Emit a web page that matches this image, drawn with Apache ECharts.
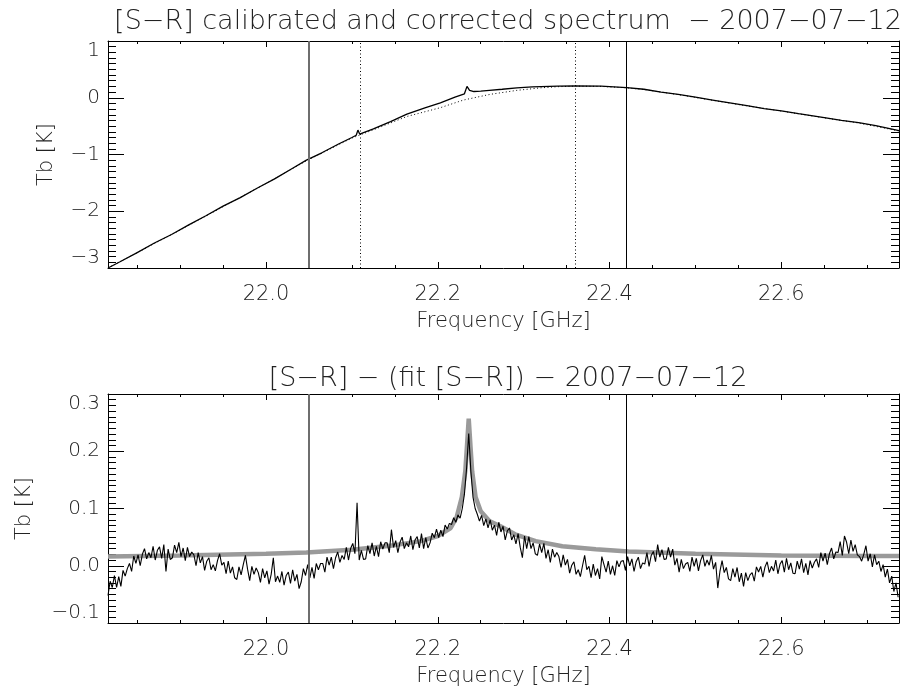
<!DOCTYPE html>
<html>
<head>
<meta charset="utf-8">
<script src="https://cdn.jsdelivr.net/npm/echarts@6/dist/echarts.min.js"></script>
<style>html,body{margin:0;padding:0;background:#fff}#c{width:920px;height:693px}</style>
</head>
<body>
<div id="c"></div>
<script>
// ---------- data ----------
const topTitle = '[S\u2212R] calibrated and corrected spectrum  \u2212 2007\u221207\u221212';
const bottomTitle = '[S\u2212R] \u2212 (fit [S\u2212R]) \u2212 2007\u221207\u221212';
const xName = 'Frequency [GHz]';
const yName = 'Tb [K]';

const X_MIN = 21.816, X_MAX = 22.737;
const xLabelValues = [22.0, 22.2, 22.4, 22.6];
const xMinorValues = [21.85, 21.9, 21.95, 22.05, 22.1, 22.15, 22.25, 22.3, 22.35, 22.45, 22.5, 22.55, 22.65, 22.7];

// top panel: calibrated spectrum
const specFreq = [21.816,21.83,21.85,21.87,21.89,21.91,21.93,21.95,21.97,21.99,22.01,22.03,22.047,22.065,22.085,22.10,22.105,22.107,22.109,22.125,22.145,22.164,22.185,22.203,22.22,22.231,22.234,22.237,22.242,22.25,22.26,22.275,22.292,22.31,22.34,22.36,22.39,22.42,22.44,22.46,22.48,22.50,22.52,22.54,22.56,22.58,22.60,22.62,22.65,22.67,22.69,22.71,22.737];
const specTb   = [-3.00,-2.89,-2.73,-2.56,-2.41,-2.24,-2.08,-1.91,-1.76,-1.59,-1.43,-1.25,-1.10,-0.97,-0.81,-0.70,-0.66,-0.57,-0.64,-0.55,-0.42,-0.29,-0.18,-0.09,0.01,0.07,0.20,0.13,0.11,0.115,0.13,0.15,0.175,0.19,0.205,0.21,0.205,0.18,0.15,0.10,0.06,0.01,-0.04,-0.09,-0.14,-0.19,-0.23,-0.28,-0.35,-0.40,-0.44,-0.49,-0.58];
// top panel: baseline fit (dotted)
const baseFreq = [21.816,21.90,22.00,22.047,22.10,22.125,22.164,22.203,22.23,22.261,22.292,22.32,22.34,22.36,22.39,22.42,22.44,22.46,22.48,22.50,22.55,22.60,22.65,22.69,22.737];
const baseTb   = [-3.00,-2.33,-1.51,-1.11,-0.71,-0.565,-0.33,-0.175,-0.04,0.06,0.13,0.175,0.195,0.205,0.20,0.175,0.145,0.10,0.055,0.005,-0.12,-0.235,-0.355,-0.445,-0.585];

// bottom panel: residual spectrum, channels from RES_START every RES_STEP GHz
const RES_START = 21.816, RES_STEP = 0.0025;
const residTb = [
-0.052,-0.027,-0.038,-0.017,-0.038,-0.019,-0.036,-0.008,-0.018,-0.005,
0.004,-0.010,0.017,0.004,0.019,0.000,0.020,0.030,0.012,0.023,
0.014,0.034,0.010,0.027,0.033,0.013,0.037,-0.010,0.029,0.011,
0.014,0.036,0.023,0.041,0.016,0.031,0.009,0.032,0.016,0.024,
0.019,0.000,0.023,0.005,0.016,-0.008,0.008,0.014,-0.007,0.002,
-0.009,0.009,0.021,0.001,0.006,-0.014,0.008,-0.013,-0.002,-0.021,
-0.024,-0.002,-0.016,0.002,0.018,-0.006,-0.026,-0.001,-0.015,-0.004,
-0.012,-0.029,-0.005,-0.021,-0.009,-0.032,-0.015,0.014,-0.028,-0.018,
-0.029,-0.010,-0.034,-0.017,-0.011,-0.031,-0.007,-0.027,-0.015,-0.040,
-0.028,-0.005,-0.017,0.002,-0.021,-0.003,-0.022,0.004,-0.007,0.004,
0.004,-0.011,0.015,0.001,0.015,-0.005,0.014,0.024,0.006,0.018,
0.011,0.032,0.010,0.030,0.039,0.021,0.110,0.010,0.027,0.011,
0.012,0.035,0.021,0.040,0.017,0.034,0.016,0.042,0.029,0.040,
0.040,0.023,0.063,0.032,0.044,0.023,0.041,0.050,0.030,0.040,
0.033,0.052,0.028,0.045,0.051,0.031,0.056,0.030,0.049,0.031,
0.040,0.057,0.049,0.064,0.049,0.062,0.051,0.071,0.064,0.074,
0.072,0.084,0.076,0.089,0.083,0.100,0.125,0.170,0.231,0.165,
0.120,0.100,0.090,0.078,0.088,0.070,0.082,0.066,0.080,0.062,
0.071,0.053,0.076,0.059,0.069,0.045,0.061,0.066,0.045,0.054,
0.038,0.056,0.032,0.014,0.052,0.030,0.051,0.030,0.040,0.021,
0.018,0.038,0.023,0.039,0.013,0.028,0.006,0.029,0.015,0.023,
0.016,-0.003,0.019,0.001,0.011,-0.013,0.001,0.007,-0.015,-0.007,
-0.019,0.000,0.018,-0.007,-0.001,-0.021,0.003,-0.017,-0.005,-0.023,
0.016,0.002,-0.011,0.008,-0.015,0.000,-0.017,0.009,-0.002,0.008,
0.009,-0.008,0.016,0.000,0.012,-0.010,0.007,0.015,-0.005,0.005,
0.003,0.023,-0.001,0.018,0.025,0.007,0.037,0.015,0.028,0.011,
0.012,0.032,0.015,0.029,0.001,0.013,-0.011,0.011,-0.005,0.003,
0.006,-0.010,0.015,-0.001,0.013,-0.009,0.009,0.019,-0.001,0.010,
0.001,0.018,-0.006,0.006,-0.039,-0.010,0.009,-0.012,-0.003,-0.023,
-0.026,-0.005,-0.020,-0.003,-0.028,-0.013,-0.036,-0.012,-0.026,-0.016,
-0.012,-0.027,-0.002,-0.011,-0.001,-0.020,-0.002,0.007,-0.012,-0.001,
-0.009,0.010,-0.014,0.003,0.009,-0.011,0.013,-0.007,0.005,-0.013,
-0.014,0.008,-0.006,0.012,-0.012,0.004,-0.016,0.009,-0.004,0.006,
0.012,-0.003,0.023,0.008,0.022,0.002,0.021,0.031,0.012,0.024,
0.023,0.042,0.018,0.052,0.041,0.021,0.045,0.025,0.037,0.019,
0.016,0.008,0.020,0.035,0.008,0.021,-0.002,0.019,0.002,0.008,
-0.010,0.002,-0.020,-0.006,-0.030,-0.018,-0.045,-0.030,-0.055
];
// bottom panel: line model fit (thick grey)
const lineFreq = [21.816,21.90,22.00,22.047,22.10,22.15,22.18,22.20,22.215,22.222,22.228,22.232,22.234,22.236,22.238,22.240,22.244,22.250,22.260,22.273,22.290,22.314,22.345,22.384,22.422,22.50,22.60,22.70,22.737];
const lineTb   = [0.016,0.018,0.021,0.023,0.028,0.036,0.043,0.052,0.066,0.085,0.12,0.165,0.21,0.257,0.21,0.165,0.12,0.095,0.078,0.069,0.055,0.043,0.034,0.029,0.025,0.021,0.018,0.017,0.017];

// vertical marker lines
const solidMarkers = [22.047, 22.422];
const dottedMarkers = [22.110, 22.361];

// ---------- chart ----------
const FONT = '"DejaVu Sans", sans-serif';
const TXT = '#222';
const zip = (a, b) => a.map((v, i) => [v, b[i]]);
const residData = residTb.map((v, i) => [RES_START + i * RES_STEP, v]);
const fmt = d => v => { const r = Math.round(v * Math.pow(10, d)) / Math.pow(10, d); if (Math.abs(r) < 1e-9) return (0).toFixed(d); return (r < 0 ? '\u2212' : '') + Math.abs(r).toFixed(d); };

const grids = [
  { left: 108, top: 41, width: 791, height: 227 },
  { left: 108, top: 394, width: 791, height: 229 }
];

function xAxesFor(g) {
  const base = { type: 'value', gridIndex: g, min: X_MIN, max: X_MAX, splitLine: { show: false } };
  return [
    Object.assign({}, base, {
      position: 'bottom',
      axisLine: { show: true, onZero: false, lineStyle: { color: '#000', width: 1 } },
      axisTick: { show: true, inside: true, length: 6, customValues: xLabelValues, lineStyle: { color: '#000' } },
      axisLabel: { show: true, customValues: xLabelValues, formatter: fmt(1), margin: 16, fontSize: 21, fontFamily: FONT, fontWeight: 200, color: TXT },
      name: xName, nameLocation: 'middle', nameGap: 43,
      nameTextStyle: { fontSize: 21, fontFamily: FONT, fontWeight: 200, color: TXT }
    }),
    Object.assign({}, base, {
      position: 'bottom',
      axisLine: { show: false, onZero: false },
      axisTick: { show: true, inside: true, length: 3, customValues: xMinorValues, lineStyle: { color: '#000' } },
      axisLabel: { show: false }
    }),
    Object.assign({}, base, {
      position: 'top',
      axisLine: { show: true, onZero: false, lineStyle: { color: '#000', width: 1 } },
      axisTick: { show: true, inside: true, length: 6, customValues: xLabelValues, lineStyle: { color: '#000' } },
      axisLabel: { show: false }
    }),
    Object.assign({}, base, {
      position: 'top',
      axisLine: { show: false, onZero: false },
      axisTick: { show: true, inside: true, length: 3, customValues: xMinorValues, lineStyle: { color: '#000' } },
      axisLabel: { show: false }
    })
  ];
}

function yAxesFor(g, min, max, interval, digits, nameGap) {
  const base = {
    type: 'value', gridIndex: g, min: min, max: max, interval: interval,
    splitLine: { show: false },
    axisLine: { show: true, onZero: false, lineStyle: { color: '#000', width: 1 } },
    axisTick: { show: true, inside: true, length: 16, lineStyle: { color: '#000' } },
    minorTick: { show: true, splitNumber: 10, length: 8, lineStyle: { color: '#000' } }
  };
  return [
    Object.assign({}, base, {
      position: 'left',
      axisLabel: { show: true, formatter: fmt(digits), margin: 8, fontSize: 20, fontFamily: FONT, fontWeight: 200, color: TXT,
                   verticalAlignMinLabel: 'bottom', verticalAlignMaxLabel: 'top' },
      name: yName, nameLocation: 'middle', nameGap: nameGap,
      nameTextStyle: { fontSize: 21, fontFamily: FONT, fontWeight: 200, color: TXT }
    }),
    Object.assign({}, base, { position: 'right', axisLabel: { show: false } })
  ];
}

function markers(items) {
  return { silent: true, symbol: ['none', 'none'], label: { show: false }, animation: false, data: items };
}

const chart = echarts.init(document.getElementById('c'), null, { renderer: 'canvas' });
chart.setOption({
  animation: false,
  backgroundColor: '#fff',
  title: [
    { text: topTitle, left: 503, top: 3, textAlign: 'center', textStyle: { fontSize: 27, fontFamily: FONT, fontWeight: 200, color: TXT } },
    { text: bottomTitle, left: 503, top: 360, textAlign: 'center', textStyle: { fontSize: 27, fontFamily: FONT, fontWeight: 200, color: TXT } }
  ],
  grid: grids,
  xAxis: [].concat(xAxesFor(0), xAxesFor(1)),
  yAxis: [].concat(yAxesFor(0, -3, 1, 1, 0, 51), yAxesFor(1, -0.1, 0.3, 0.1, 1, 73)),
  series: [
    { type: 'line', xAxisIndex: 0, yAxisIndex: 0, data: zip(baseFreq, baseTb), showSymbol: false, z: 2,
      lineStyle: { color: '#000', width: 1, type: [1, 2.5] } },
    { type: 'line', xAxisIndex: 0, yAxisIndex: 0, data: zip(specFreq, specTb), showSymbol: false, z: 3,
      lineStyle: { color: '#000', width: 1.3 },
      markLine: markers([
        { xAxis: solidMarkers[0], lineStyle: { color: '#6e6e6e', width: 2, type: 'solid' } },
        { xAxis: solidMarkers[1], lineStyle: { color: '#000', width: 1, type: 'solid' } },
        { xAxis: dottedMarkers[0], lineStyle: { color: '#000', width: 1, type: [1, 2.5] } },
        { xAxis: dottedMarkers[1], lineStyle: { color: '#000', width: 1, type: [1, 2.5] } }
      ]) },
    { type: 'line', xAxisIndex: 4, yAxisIndex: 2, data: zip(lineFreq, lineTb), showSymbol: false, z: 2,
      lineStyle: { color: '#9a9a9a', width: 4.5 } },
    { type: 'line', xAxisIndex: 4, yAxisIndex: 2, data: residData, showSymbol: false, z: 3, sampling: null,
      lineStyle: { color: '#000', width: 1.1 },
      markLine: markers([
        { xAxis: solidMarkers[0], lineStyle: { color: '#6e6e6e', width: 2, type: 'solid' } },
        { xAxis: solidMarkers[1], lineStyle: { color: '#000', width: 1, type: 'solid' } }
      ]) }
  ]
});
</script>
</body>
</html>
